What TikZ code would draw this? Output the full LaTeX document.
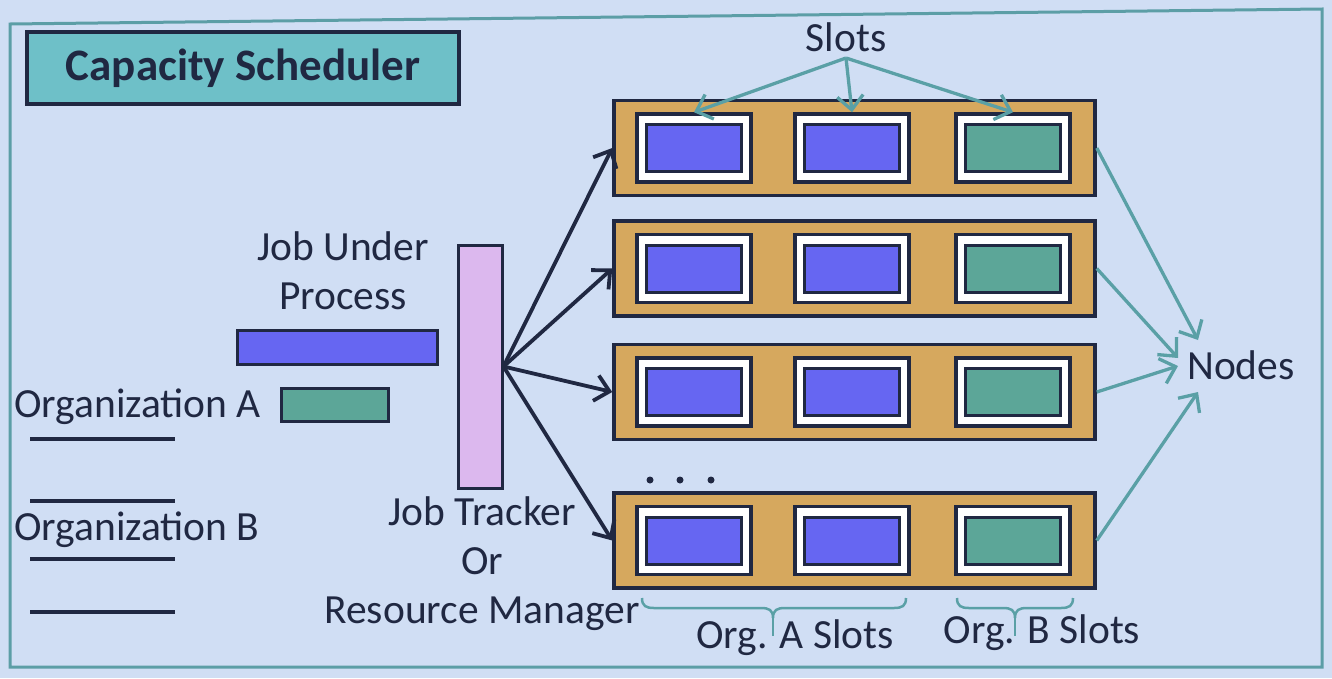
\documentclass[tikz,border=0pt]{standalone}
\usepackage{fontspec}
\setmainfont{Carlito}
\usetikzlibrary{arrows.meta,calc}
\definecolor{bg}{RGB}{208,222,244}
\definecolor{frameteal}{RGB}{92,158,166}
\definecolor{titlefill}{RGB}{110,192,200}
\definecolor{ink}{RGB}{32,40,66}
\definecolor{tanfill}{RGB}{214,168,94}
\definecolor{slotblue}{RGB}{102,102,242}
\definecolor{slotgreen}{RGB}{92,166,152}
\definecolor{jtpink}{RGB}{220,184,238}
\definecolor{arrteal}{RGB}{90,160,166}
\begin{document}
\begin{tikzpicture}[x=1pt,y=-1pt,
  txt/.style={text=ink,font=\fontsize{41.5}{49}\selectfont,inner sep=0pt,align=center},
  rowbox/.style={draw=ink,fill=tanfill,line width=3.5pt,minimum width=481pt,minimum height=95pt,inner sep=0pt},
  slotbox/.style={draw=ink,fill=white,line width=3.5pt,minimum width=114pt,minimum height=68pt,inner sep=0pt},
  innerbox/.style={draw=ink,line width=3pt,minimum width=95pt,minimum height=47pt,inner sep=0pt},
  darr/.style={draw=ink,line width=3.8pt,-{Straight Barb[length=14pt,width=26pt,line width=3.8pt]}},
  tarr/.style={draw=arrteal,line width=3.3pt,-{Straight Barb[length=14pt,width=26pt,line width=3.3pt]}},
  brc/.style={draw=arrteal,line width=2.5pt},
  legendline/.style={draw=ink,line width=4pt}
]
\fill[bg] (0,0) rectangle (1332,678);
\useasboundingbox (0,0) rectangle (1332,678);
\draw[frameteal,line width=3pt] (10,24) -- (1322,9) -- (1322,667) -- (10,667) -- cycle;

% title
\node[draw=ink,fill=titlefill,line width=4pt,minimum width=432pt,minimum height=72pt,
      text=ink,font=\fontsize{45}{52}\selectfont\bfseries] (title) at (243,68) {Capacity Scheduler};

% rows of nodes
\node[rowbox] (r1) at (854.5,148) {};
\node[rowbox] (r2) at (854.5,268.5) {};
\node[rowbox] (r3) at (854.5,392) {};
\node[rowbox] (r4) at (854.5,540.5) {};
\foreach \i/\y in {1/148,2/268.5,3/392,4/540.5}{
  \foreach \j/\x/\c in {1/694/slotblue,2/852/slotblue,3/1013/slotgreen}{
    \node[slotbox] (s\i\j) at (\x,\y) {};
    \node[innerbox,fill=\c] (c\i\j) at (\x,\y) {};
  }
}

% dots
\fill[ink] (650,480) circle (3.5) (680,480) circle (3.5) (711,480) circle (3.5);

% job tracker
\node[draw=ink,fill=jtpink,line width=3pt,minimum width=44pt,minimum height=243pt,inner sep=0pt] (jt) at (480,366.5) {};
\foreach \r in {r1,r2,r3,r4} \draw[darr] (jt.east) -- (\r.west);

% legend
\node[txt] (jup) at (343,271) {Job Under\\Process};
\node[draw=ink,fill=slotblue,line width=3pt,minimum width=200pt,minimum height=34pt,inner sep=0pt] (bluebar) at (337,347) {};
\node[draw=ink,fill=slotgreen,line width=3pt,minimum width=107pt,minimum height=33pt,inner sep=0pt] (greenbar) at (334.5,405) {};
\node[txt,anchor=base west] (orga) at (14,417) {Organization A};
\node[txt,anchor=base west] (orgb) at (14,540) {Organization B};
\draw[legendline] (30,439) -- (175,439);
\draw[legendline] (30,501) -- (175,501);
\draw[legendline] (30,559) -- (175,559);
\draw[legendline] (30,612) -- (175,612);
\node[txt] (jtlabel) at (482,564) {Job Tracker\\Or\\Resource Manager};

% slots label
\node[txt] (slots) at (846,37) {Slots};
\coordinate (sa) at (846,58);
\draw[tarr] (sa) -- (s11.north);
\draw[tarr] (sa) -- (s12.north);
\draw[tarr] (sa) -- (s13.north);

% nodes label
\node[txt,anchor=west] (nodes) at (1187,365) {Nodes};
\coordinate (n1) at (1198,340);
\coordinate (n2) at (1178,358);
\coordinate (n3) at (1178,366);
\coordinate (n4) at (1198,392);
\draw[tarr] (r1.east) -- (n1);
\draw[tarr] (r2.east) -- (n2);
\draw[tarr] (r3.east) -- (n3);
\draw[tarr] (r4.east) -- (n4);

% braces
\draw[brc] (642,598) .. controls (642,606) and (646,608) .. (654,608) -- (761,608)
  .. controls (769,608) and (773,610) .. (773,618)
  .. controls (773,610) and (777,608) .. (785,608) -- (894,608)
  .. controls (902,608) and (906,606) .. (906,598);
\draw[brc] (773,616) -- (773,636);
\draw[brc] (957,598) .. controls (957,606) and (961,608) .. (969,608) -- (1003,608)
  .. controls (1011,608) and (1015,610) .. (1015,618)
  .. controls (1015,610) and (1019,608) .. (1027,608) -- (1061,608)
  .. controls (1069,608) and (1073,606) .. (1073,598);
\draw[brc] (1015,616) -- (1015,636);
\node[txt] (orgaslots) at (795,638) {Org. A Slots};
\node[txt] (orgbslots) at (1042,633) {Org. B Slots};
\end{tikzpicture}
\end{document}
